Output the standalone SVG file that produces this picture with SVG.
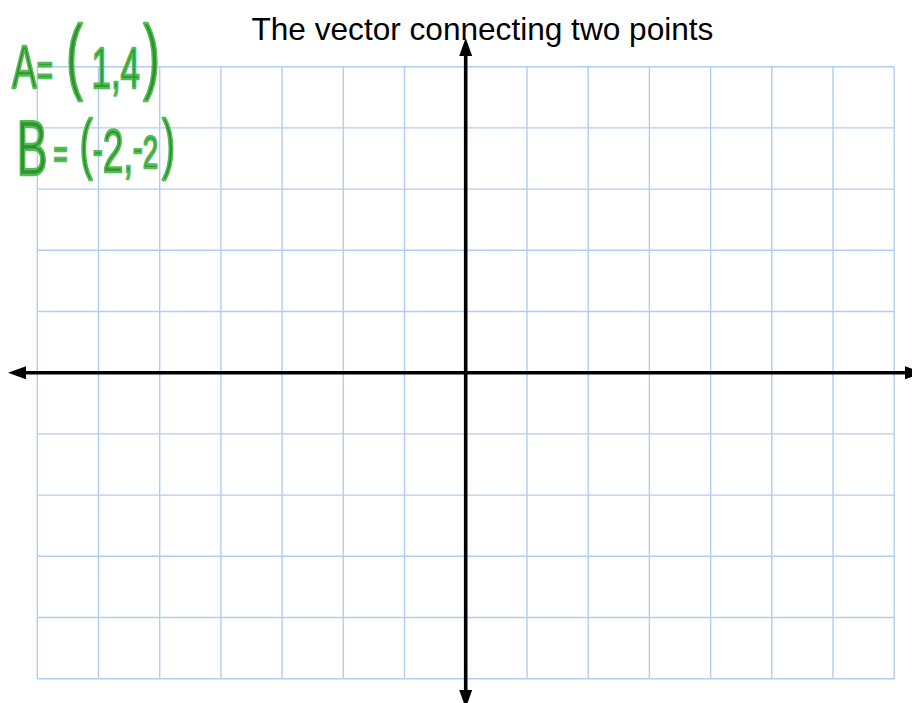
<svg xmlns="http://www.w3.org/2000/svg" width="912" height="703" viewBox="0 0 912 703">
  <defs>
    <marker id="arrow" markerUnits="userSpaceOnUse" markerWidth="18" markerHeight="13" refX="0" refY="6.5" orient="auto-start-reverse" viewBox="0 0 18 13">
      <path d="M0,0 L18,6.5 L0,13 Z" fill="#000"/>
    </marker>
  </defs>
  <style>
    .grid line { stroke: #b2cdf1; stroke-width: 1.4; }
    .axis { stroke: #000; stroke-width: 3.6; fill: none; }
    .title { font-family: "Liberation Sans", Arial, sans-serif; font-size: 31.6px; fill: #000; }
    .hand { font-family: "Liberation Sans", Arial, sans-serif; fill: #2c942c; stroke: #55bb55; stroke-width: 2.4; stroke-linejoin: round; }
  </style>
  <rect width="912" height="703" fill="#fff"/>
  <g id="grid" class="grid">
    <line x1="37.3" y1="66.7" x2="37.3" y2="678.7"/>
    <line x1="98.5" y1="66.7" x2="98.5" y2="678.7"/>
    <line x1="159.7" y1="66.7" x2="159.7" y2="678.7"/>
    <line x1="220.9" y1="66.7" x2="220.9" y2="678.7"/>
    <line x1="282.1" y1="66.7" x2="282.1" y2="678.7"/>
    <line x1="343.3" y1="66.7" x2="343.3" y2="678.7"/>
    <line x1="404.5" y1="66.7" x2="404.5" y2="678.7"/>
    <line x1="527.0" y1="66.7" x2="527.0" y2="678.7"/>
    <line x1="588.2" y1="66.7" x2="588.2" y2="678.7"/>
    <line x1="649.4" y1="66.7" x2="649.4" y2="678.7"/>
    <line x1="710.6" y1="66.7" x2="710.6" y2="678.7"/>
    <line x1="771.8" y1="66.7" x2="771.8" y2="678.7"/>
    <line x1="833.0" y1="66.7" x2="833.0" y2="678.7"/>
    <line x1="894.2" y1="66.7" x2="894.2" y2="678.7"/>
    <line x1="37.3" y1="66.7" x2="894.2" y2="66.7"/>
    <line x1="37.3" y1="127.9" x2="894.2" y2="127.9"/>
    <line x1="37.3" y1="189.1" x2="894.2" y2="189.1"/>
    <line x1="37.3" y1="250.3" x2="894.2" y2="250.3"/>
    <line x1="37.3" y1="311.5" x2="894.2" y2="311.5"/>
    <line x1="37.3" y1="433.9" x2="894.2" y2="433.9"/>
    <line x1="37.3" y1="495.1" x2="894.2" y2="495.1"/>
    <line x1="37.3" y1="556.3" x2="894.2" y2="556.3"/>
    <line x1="37.3" y1="617.5" x2="894.2" y2="617.5"/>
    <line x1="37.3" y1="678.7" x2="894.2" y2="678.7"/>
  </g>
  <g id="title">
    <text class="title" x="251.5" y="40">The vector connecting two points</text>
  </g>
  <g id="axes">
    <line class="axis" x1="26" y1="372.8" x2="905" y2="372.8" marker-start="url(#arrow)" marker-end="url(#arrow)"/>
    <line class="axis" x1="465.7" y1="56" x2="465.7" y2="690" marker-start="url(#arrow)" marker-end="url(#arrow)"/>
  </g>
  <g id="notes">
    <text class="hand" transform="scale(0.6 1)" x="20"><tspan y="88" font-size="62">A</tspan><tspan y="86" font-size="46">=</tspan><tspan dx="22" y="84" font-size="84">(</tspan><tspan dx="14.5" y="88" font-size="58">1</tspan><tspan y="88" font-size="58">,</tspan><tspan y="88" font-size="58">4</tspan><tspan dx="5.3" y="84" font-size="84">)</tspan></text>
    <text class="hand" transform="scale(0.6 1)" x="27.5"><tspan y="175" font-size="78">B</tspan><tspan dx="9.7" y="168" font-size="40">=</tspan><tspan dx="20" y="166" font-size="66">(</tspan><tspan y="166" font-size="50">-</tspan><tspan y="172" font-size="62">2</tspan><tspan y="172" font-size="56">,</tspan><tspan y="164" font-size="50">-</tspan><tspan y="168" font-size="46">2</tspan><tspan dx="6.7" y="166" font-size="66">)</tspan></text>
  </g>
</svg>
